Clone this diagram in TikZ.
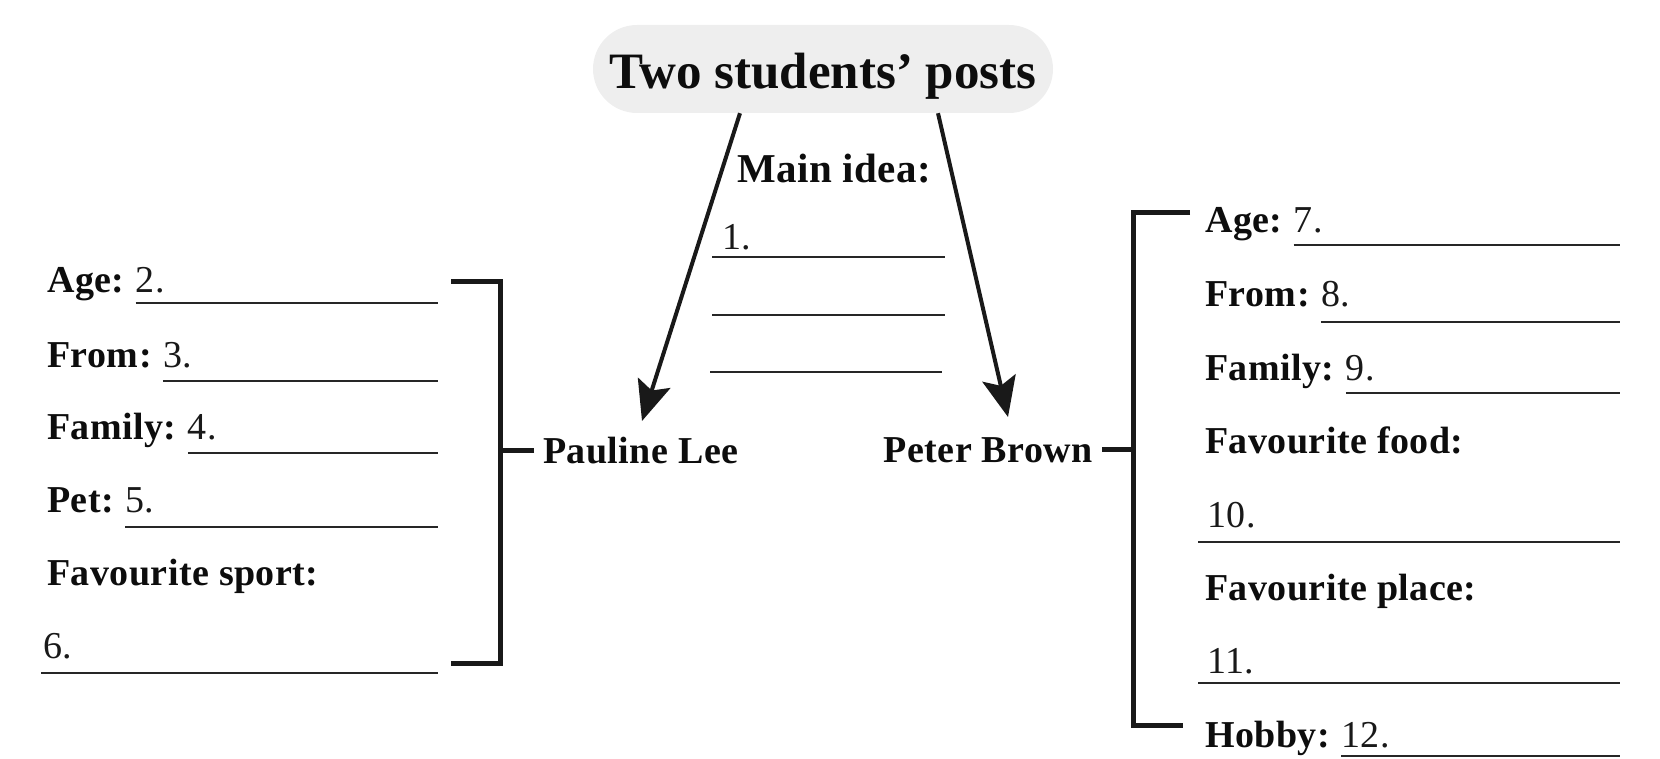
\documentclass[tikz,border=0pt]{standalone}
\usepackage{fontspec}
\setmainfont{Liberation Serif}
\newfontfamily\labfont{Liberation Serif}[LetterSpace=1.2]
\usetikzlibrary{arrows.meta}
\begin{document}
\begin{tikzpicture}[x=1pt,y=-1pt,
  lab/.style={font=\labfont\bfseries\fontsize{38}{42}\selectfont, inner sep=0pt, anchor=base west, text=black!95},
  num/.style={font=\labfont\fontsize{38}{42}\selectfont, inner sep=0pt, anchor=base west, text=black!90},
  pname/.style={font=\labfont\bfseries\fontsize{38}{42}\selectfont, inner xsep=9pt, inner ysep=0pt, text=black!95},
  pill/.style={fill=gray!13, rounded corners=44pt, minimum width=460pt, minimum height=88pt,
    inner sep=0pt, text height=40pt, text depth=0pt, font=\bfseries\fontsize{51}{56}\selectfont, text=black!95},
  blank/.style={line width=1.6pt, draw=black!85},
  brk/.style={line width=5pt, draw=black!90, line join=miter},
  arr/.style={line width=4pt, draw=black!90, -{Stealth[length=40pt,width=34pt,inset=8pt]}}]
\useasboundingbox (0,0) rectangle (1660,759);

% title
\node[pill] (title) at (823,69) {Two students’ posts};

% main idea
\node[lab, font=\labfont\bfseries\fontsize{41}{44}\selectfont] (mi) at (737,183) {Main idea:};
\node[num] (m1) at (722,250) {1.};
\draw[blank] (712,257) -- (945,257);
\draw[blank] (712,315) -- (945,315);
\draw[blank] (710,372) -- (942,372);

% names
\node[pname, anchor=base west] (pl) at (534,463) {Pauline Lee};
\node[pname, anchor=base east] (pb) at (1102,462) {Peter Brown};

% arrows
\coordinate (tipL) at (642,421);
\coordinate (tipR) at (1008,417);
\draw[arr] (title.south -| 740,0) -- (tipL);
\draw[arr] (title.south -| 938,0) -- (tipR);

% left panel
\node[lab] (la1) at (47,293) {Age:};
\node[num] (na1) at ([xshift=11pt]la1.base east) {2.};
\draw[blank] (na1.base west |- 0,303) -- (438,303);

\node[lab] (la2) at (47,367) {From:};
\node[num] (na2) at ([xshift=11pt]la2.base east) {3.};
\draw[blank] (na2.base west |- 0,381) -- (438,381);

\node[lab] (la3) at (47,439) {Family:};
\node[num] (na3) at ([xshift=11pt]la3.base east) {4.};
\draw[blank] (na3.base west |- 0,453) -- (438,453);

\node[lab] (la4) at (47,512) {Pet:};
\node[num] (na4) at ([xshift=11pt]la4.base east) {5.};
\draw[blank] (na4.base west |- 0,527) -- (438,527);

\node[lab] (la5) at (47,585) {Favourite sport:};
\node[num] (na6) at (43,658) {6.};
\draw[blank] (41,673) -- (438,673);

% left bracket
\draw[brk] (451,282) -| (500,663) -- (451,663);
\draw[brk] (pl.west) -- (500,0 |- pl.west);

% right bracket
\draw[brk] (1190,213) -| (1133,725) -- (1183,725);
\draw[brk] (pb.east) -- (1133,0 |- pb.east);

% right panel
\node[lab] (ra1) at (1205,233) {Age:};
\node[num] (nr1) at ([xshift=11pt]ra1.base east) {7.};
\draw[blank] (nr1.base west |- 0,245) -- (1620,245);

\node[lab] (ra2) at (1205,307) {From:};
\node[num] (nr2) at ([xshift=11pt]ra2.base east) {8.};
\draw[blank] (nr2.base west |- 0,322) -- (1620,322);

\node[lab] (ra3) at (1205,380) {Family:};
\node[num] (nr3) at ([xshift=11pt]ra3.base east) {9.};
\draw[blank] (nr3.base west |- 0,393) -- (1620,393);

\node[lab] (ra4) at (1205,453) {Favourite food:};
\node[num] (nr4) at (1207,527) {10.};
\draw[blank] (1198,542) -- (1620,542);

\node[lab] (ra5) at (1205,600) {Favourite place:};
\node[num] (nr5) at (1207,673) {11.};
\draw[blank] (1198,683) -- (1620,683);

\node[lab] (ra6) at (1205,747) {Hobby:};
\node[num] (nr6) at ([xshift=11pt]ra6.base east) {12.};
\draw[blank] (nr6.base west |- 0,756) -- (1620,756);
\end{tikzpicture}
\end{document}
